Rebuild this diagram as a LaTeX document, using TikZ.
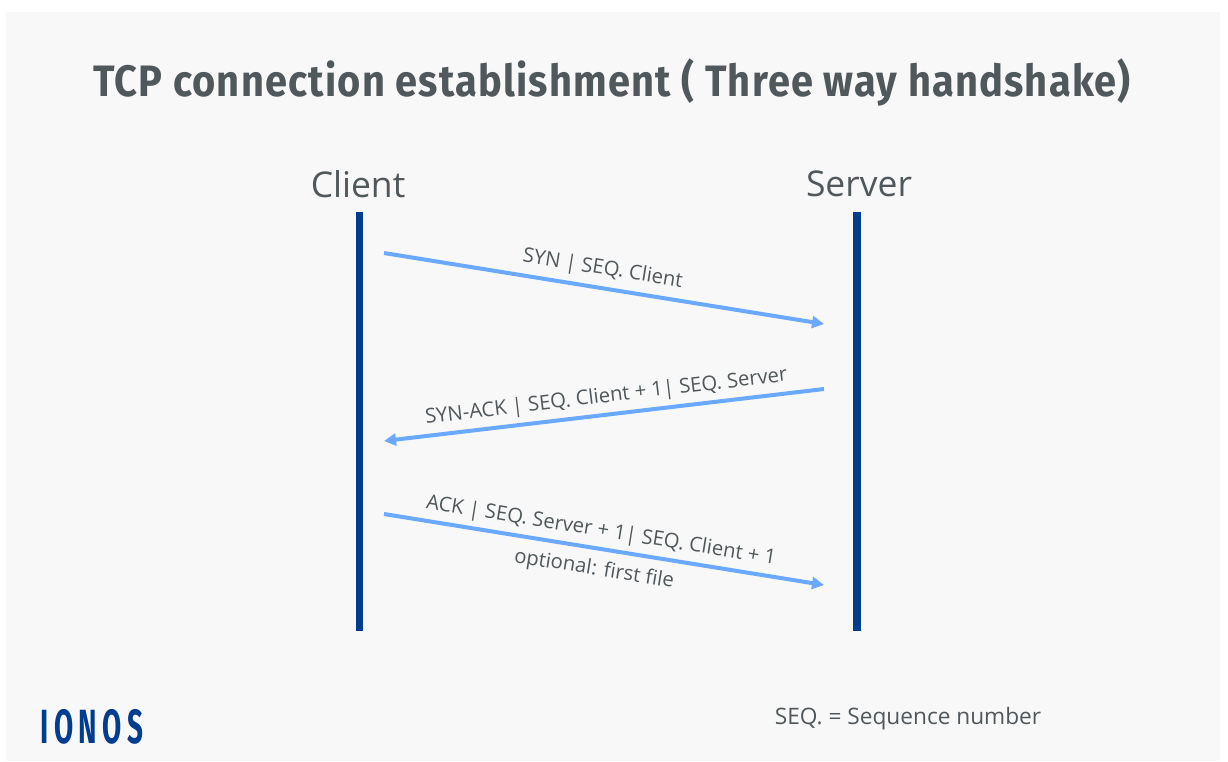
\documentclass[tikz,border=0pt]{standalone}
\usepackage{fontspec}
\setmainfont{Open Sans}
\newfontfamily\titlefont{Fira Sans}[BoldFont={Fira Sans Bold},LetterSpace=3]
\newfontfamily\logofont{Fira Sans}[BoldFont={Fira Sans Bold},LetterSpace=20]
\usetikzlibrary{positioning,arrows.meta}
\definecolor{panelgray}{HTML}{F8F8F8}
\definecolor{textgray}{HTML}{50585C}
\definecolor{lifeblue}{HTML}{003D8F}
\definecolor{msgblue}{HTML}{6AA9FF}
\tikzset{
  px/.style={x=0.75pt,y=-0.75pt},
  lifeline/.style={line width=5.6pt,color=lifeblue},
  message/.style={line width=3pt,color=msgblue,-{Triangle[length=9pt,width=9pt]}},
  msglabel/.style={font=\fontsize{15.2}{17}\selectfont,text=textgray,sloped,inner sep=0pt},
  head/.style={font=\fontsize{26.6}{30}\selectfont,text=textgray,inner sep=0pt}
}
\begin{document}
\begin{tikzpicture}[px]
\useasboundingbox (0,0) rectangle (1228,761);
\fill[panelgray] (6,12) rectangle (1220,761);
\node[font=\titlefont\bfseries\fontsize{33}{37}\selectfont,text=textgray,inner sep=0pt,xscale=0.905] (title) at (612,82) {TCP connection establishment ( Three way handshake)};
\node[head] (client) at (358,184) {Client};
\node[head] (server) at (859,184) {Server};
\coordinate (ctop) at (359.5,212);
\coordinate (cbot) at (359.5,631);
\coordinate (stop) at (857,212);
\coordinate (sbot) at (857,631);
\coordinate (a1) at (384,253);
\coordinate (b1) at (824,324);
\coordinate (b2) at (824,389);
\coordinate (a2) at (384,441);
\coordinate (a3) at (384,514);
\coordinate (b3) at (824,585);
\draw[lifeline] (ctop) -- (cbot);
\draw[lifeline] (stop) -- (sbot);
\path
(a1) edge [message] node [msglabel,above=5pt,pos=0.49] {SYN | SEQ. Client} (b1)
(b2) edge [message] node [msglabel,above=4pt,pos=0.49] {SYN-ACK | SEQ. Client + 1| SEQ. Server} (a2)
(a3) edge [message] node [msglabel,above=4pt,pos=0.487] {ACK | SEQ. Server + 1| SEQ. Client + 1}
                    node [msglabel,below=7pt,pos=0.485] {optional: first file} (b3)
;
\node[font=\fontsize{17}{20}\selectfont,text=textgray,inner sep=0pt] (legend) at (908,719) {SEQ. = Sequence number};
\node[font=\logofont\bfseries\fontsize{36}{38}\selectfont,text=lifeblue,inner sep=0pt,xscale=0.58] (logo) at (92,727) {IONOS};
\end{tikzpicture}
\end{document}
